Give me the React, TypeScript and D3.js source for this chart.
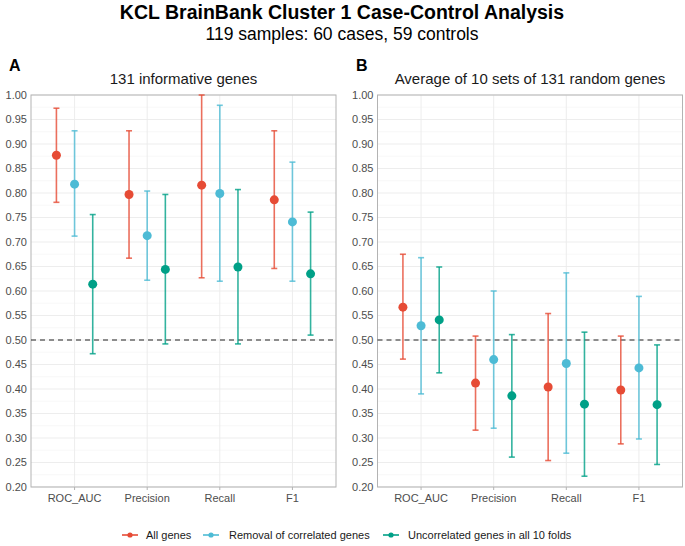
import React from "react";
import * as d3 from "d3";

const metrics = ["ROC_AUC", "Precision", "Recall", "F1"];
const seriesNames = ["All genes", "Removal of correlated genes", "Uncorrelated genes in all 10 folds"];
const colors = ["#E64B35", "#4DBBD5", "#00A087"];
const yTicks = [0.2, 0.25, 0.3, 0.35, 0.4, 0.45, 0.5, 0.55, 0.6, 0.65, 0.7, 0.75, 0.8, 0.85, 0.9, 0.95, 1.0];

// Panel A: [series][metric]
const aMean = [
  [0.877, 0.797, 0.816, 0.786],
  [0.818, 0.713, 0.799, 0.741],
  [0.614, 0.644, 0.649, 0.635],
];
const aLow = [
  [0.781, 0.667, 0.627, 0.646],
  [0.712, 0.622, 0.62, 0.62],
  [0.472, 0.492, 0.492, 0.51],
];
const aHigh = [
  [0.973, 0.927, 1.0, 0.927],
  [0.927, 0.804, 0.979, 0.863],
  [0.756, 0.797, 0.807, 0.761],
];

// Panel B
const bMean = [
  [0.567, 0.412, 0.404, 0.398],
  [0.529, 0.46, 0.452, 0.443],
  [0.541, 0.386, 0.369, 0.368],
];
const bLow = [
  [0.461, 0.316, 0.254, 0.288],
  [0.39, 0.32, 0.269, 0.298],
  [0.433, 0.261, 0.222, 0.246],
];
const bHigh = [
  [0.675, 0.508, 0.554, 0.508],
  [0.668, 0.6, 0.637, 0.589],
  [0.649, 0.511, 0.516, 0.49],
];

const FONT = "'Liberation Sans', Arial, sans-serif";

function Panel({ x0, x1, title, letter, mean, low, high }: any) {
  const top = 95;
  const bottom = 487;
  const y = d3.scaleLinear().domain([0.2, 1.0]).range([bottom, top]);
  const x = d3.scaleLinear().domain([0.4, 4.6]).range([x0, x1]);
  const dodge = 0.25;
  const minor = d3.range(0.225, 1.0, 0.05);
  const cx = (x0 + x1) / 2;
  return (
    <g>
      <text x={letter.x} y={71} fontSize={16} fontWeight="bold" fill="#000">{letter.t}</text>
      <text x={cx} y={84} fontSize={15} textAnchor="middle" fill="#1a1a1a">{title}</text>
      <rect x={x0} y={top} width={x1 - x0} height={bottom - top} fill="#fff" />
      {minor.map((v, i) => (
        <line key={"mn" + i} x1={x0} x2={x1} y1={y(v)} y2={y(v)} stroke="#F4F4F4" strokeWidth={0.6} />
      ))}
      {yTicks.map((v, i) => (
        <line key={"mj" + i} x1={x0} x2={x1} y1={y(v)} y2={y(v)} stroke="#EBEBEB" strokeWidth={0.9} />
      ))}
      {metrics.map((m, i) => (
        <line key={"vx" + i} x1={x(i + 1)} x2={x(i + 1)} y1={top} y2={bottom} stroke="#EBEBEB" strokeWidth={0.9} />
      ))}
      <rect x={x0} y={top} width={x1 - x0} height={bottom - top} fill="none" stroke="#B3B3B3" strokeWidth={1} />
      {yTicks.map((v, i) => (
        <text key={"yt" + i} x={x0 - 4} y={y(v)} dy="0.35em" fontSize={11} textAnchor="end" fill="#4D4D4D">{v.toFixed(2)}</text>
      ))}
      {metrics.map((m, i) => (
        <g key={"xt" + i}>
          <line x1={x(i + 1)} x2={x(i + 1)} y1={bottom} y2={bottom + 3} stroke="#B3B3B3" />
          <text x={x(i + 1)} y={bottom + 15} fontSize={11} textAnchor="middle" fill="#4D4D4D">{m}</text>
        </g>
      ))}
      <line x1={x0} x2={x1} y1={y(0.5)} y2={y(0.5)} stroke="#222" strokeWidth={1.2} strokeDasharray="5,4" />
      {mean.map((row: number[], s: number) =>
        row.map((v: number, i: number) => {
          const px = x(i + 1 + (s - 1) * dodge);
          return (
            <g key={"s" + s + "-" + i}>
              <g stroke={colors[s]} strokeOpacity={0.8} strokeWidth={1.6}>
                <line x1={px} x2={px} y1={y(low[s][i])} y2={y(high[s][i])} />
                <line x1={px - 3} x2={px + 3} y1={y(low[s][i])} y2={y(low[s][i])} />
                <line x1={px - 3} x2={px + 3} y1={y(high[s][i])} y2={y(high[s][i])} />
              </g>
              <circle cx={px} cy={y(v)} r={4.5} fill={colors[s]} />
            </g>
          );
        })
      )}
    </g>
  );
}

export default function App() {
  const legendItems = [
    { x: 122, tx: 146 },
    { x: 203, tx: 229 },
    { x: 383, tx: 408 },
  ];
  return (
    <svg width={685} height={546} style={{ position: "absolute", left: 0, top: 0, fontFamily: FONT }}>
      <rect width={685} height={546} fill="#fff" />
      <text x={342} y={19} fontSize={19.5} fontWeight="bold" textAnchor="middle" fill="#000">
        KCL BrainBank Cluster 1 Case-Control Analysis
      </text>
      <text x={342} y={40} fontSize={17.5} textAnchor="middle" fill="#000">119 samples: 60 cases, 59 controls</text>
      <Panel x0={31} x1={336} title="131 informative genes" letter={{ x: 9, t: "A" }} mean={aMean} low={aLow} high={aHigh} />
      <Panel x0={377.5} x1={682.5} title="Average of 10 sets of 131 random genes" letter={{ x: 356, t: "B" }} mean={bMean} low={bLow} high={bHigh} />
      {seriesNames.map((n, s) => (
        <g key={"lg" + s}>
          <line x1={legendItems[s].x} x2={legendItems[s].x + 16} y1={535} y2={535} stroke={colors[s]} strokeWidth={1.6} />
          <circle cx={legendItems[s].x + 8} cy={535} r={2.6} fill={colors[s]} />
          <text x={legendItems[s].tx} y={535} dy="0.35em" fontSize={11} fill="#1a1a1a">{n}</text>
        </g>
      ))}
    </svg>
  );
}
